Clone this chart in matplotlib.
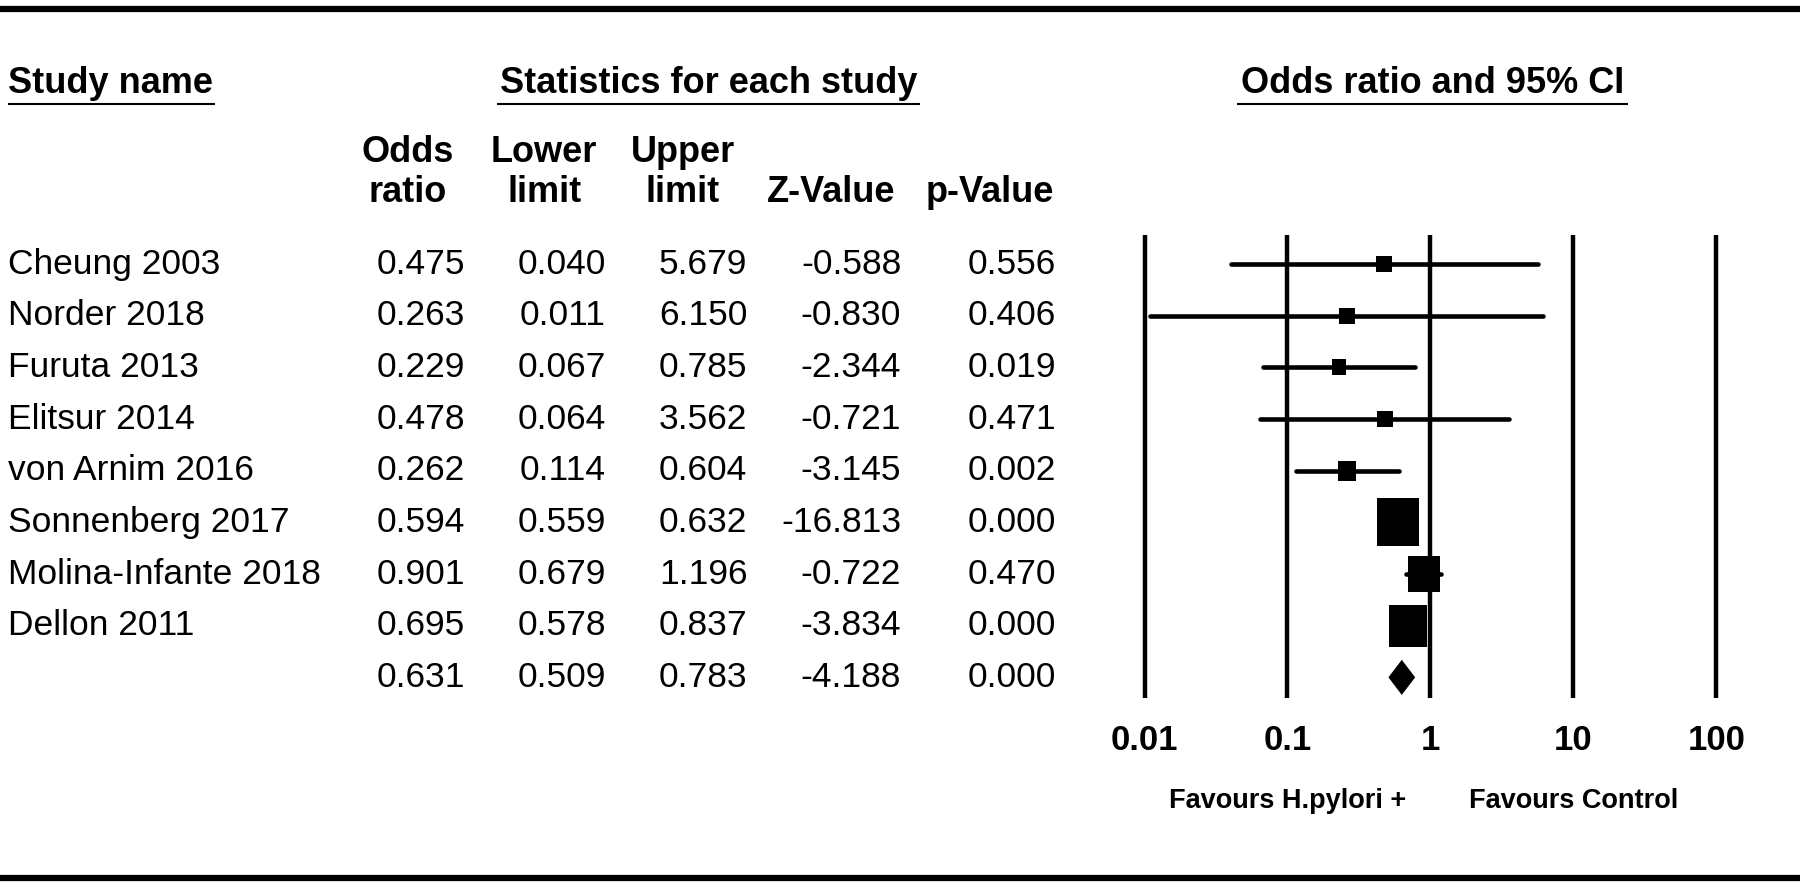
import numpy as np
import matplotlib
matplotlib.use('Agg')
import matplotlib.pyplot as plt
from matplotlib.path import Path

plt.rcParams['font.family'] = ['Liberation Sans', 'DejaVu Sans']

studies = ['Cheung 2003', 'Norder 2018', 'Furuta 2013', 'Elitsur 2014', 'von Arnim 2016',
           'Sonnenberg 2017', 'Molina-Infante 2018', 'Dellon 2011', '']
odds = [0.475, 0.263, 0.229, 0.478, 0.262, 0.594, 0.901, 0.695, 0.631]
lower = [0.040, 0.011, 0.067, 0.064, 0.114, 0.559, 0.679, 0.578, 0.509]
upper = [5.679, 6.150, 0.785, 3.562, 0.604, 0.632, 1.196, 0.837, 0.783]
zval = [-0.588, -0.830, -2.344, -0.721, -3.145, -16.813, -0.722, -3.834, -4.188]
pval = [0.556, 0.406, 0.019, 0.471, 0.002, 0.000, 0.470, 0.000, 0.000]
# relative weight boxes (marker size, pt)
box = [12, 12, 11.5, 12, 14, 34, 26, 30]
ticks = [0.01, 0.1, 1, 10, 100]
tick_labels = ['0.01', '0.1', '1', '10', '100']

W, H = 1568, 770


def row(y):
    # layout y (px from top) -> row units
    return (y - 230) / 45.0


fig = plt.figure(figsize=(18, 8.84), dpi=100)
ax = fig.add_axes([0, 0, 1, 1])
ax.set_xlim(0, W)
ax.set_ylim(row(H), row(0))
ax.axis('off')

fs = 25.5
hfs = 26
# rules
ax.hlines(row(8), 0, W, color='black', lw=4.5)
ax.hlines(row(765), 0, W, color='black', lw=4.5)

# section headers
ax.text(7, row(73), 'Study name', ha='left', va='center', fontsize=hfs, fontweight='bold')
ax.hlines(row(91), 7, 187, color='black', lw=1.5)
ax.text(617, row(73), 'Statistics for each study', ha='center', va='center', fontsize=hfs, fontweight='bold')
ax.hlines(row(91), 433, 801, color='black', lw=1.5)
ax.text(1248, row(73), 'Odds ratio and 95% CI', ha='center', va='center', fontsize=hfs, fontweight='bold')
ax.hlines(row(91), 1078, 1418, color='black', lw=1.5)

# column headers
col_right = [405, 528, 651, 785, 920]
heads = [('Odds', 'ratio', 355), ('Lower', 'limit', 474), ('Upper', 'limit', 595),
         ('', 'Z-Value', 724), ('', 'p-Value', 862)]
for top, bot, cx in heads:
    if top:
        ax.text(cx, row(133), top, ha='center', va='center', fontsize=hfs, fontweight='bold')
    ax.text(cx, row(168), bot, ha='center', va='center', fontsize=hfs, fontweight='bold')

# table rows
for i in range(len(odds)):
    ax.text(7, i, studies[i], ha='left', va='center', fontsize=fs)
    vals = [odds[i], lower[i], upper[i], zval[i], pval[i]]
    for x, v in zip(col_right, vals):
        ax.text(x, i, '%.3f' % v, ha='right', va='center', fontsize=fs)

# forest plot
fa = fig.add_axes([997 / W, 0, (1495 - 997) / W, 1])
fa.set_xscale('log')
fa.set_xlim(0.01, 100)
fa.set_ylim(row(H), row(0))
fa.axis('off')

fa.vlines(ticks, row(205), row(608), color='black', lw=3.2, clip_on=False)
for t, lab in zip(ticks, tick_labels):
    fa.text(t, row(645), lab, ha='center', va='center', fontsize=25, fontweight='bold')

rect = Path([(-0.9, -1), (0.9, -1), (0.9, 1), (-0.9, 1), (-0.9, -1)],
            [Path.MOVETO, Path.LINETO, Path.LINETO, Path.LINETO, Path.CLOSEPOLY])
n = len(box)
fa.hlines(range(n), lower[:n], upper[:n], color='black', lw=3.3, capstyle='round')
for i in range(n):
    fa.plot(odds[i], i, marker=rect, ms=box[i], color='black', mec='black', mew=0)

k = n
fa.fill([lower[k], odds[k], upper[k], odds[k]], [k, k - 0.34, k, k + 0.34], color='black', lw=0)

fa.text(0.1, row(698), 'Favours H.pylori +', ha='center', va='center', fontsize=19.5, fontweight='bold')
fa.text(10, row(698), 'Favours Control', ha='center', va='center', fontsize=19.5, fontweight='bold')

fig.savefig('out.png', dpi=100)
